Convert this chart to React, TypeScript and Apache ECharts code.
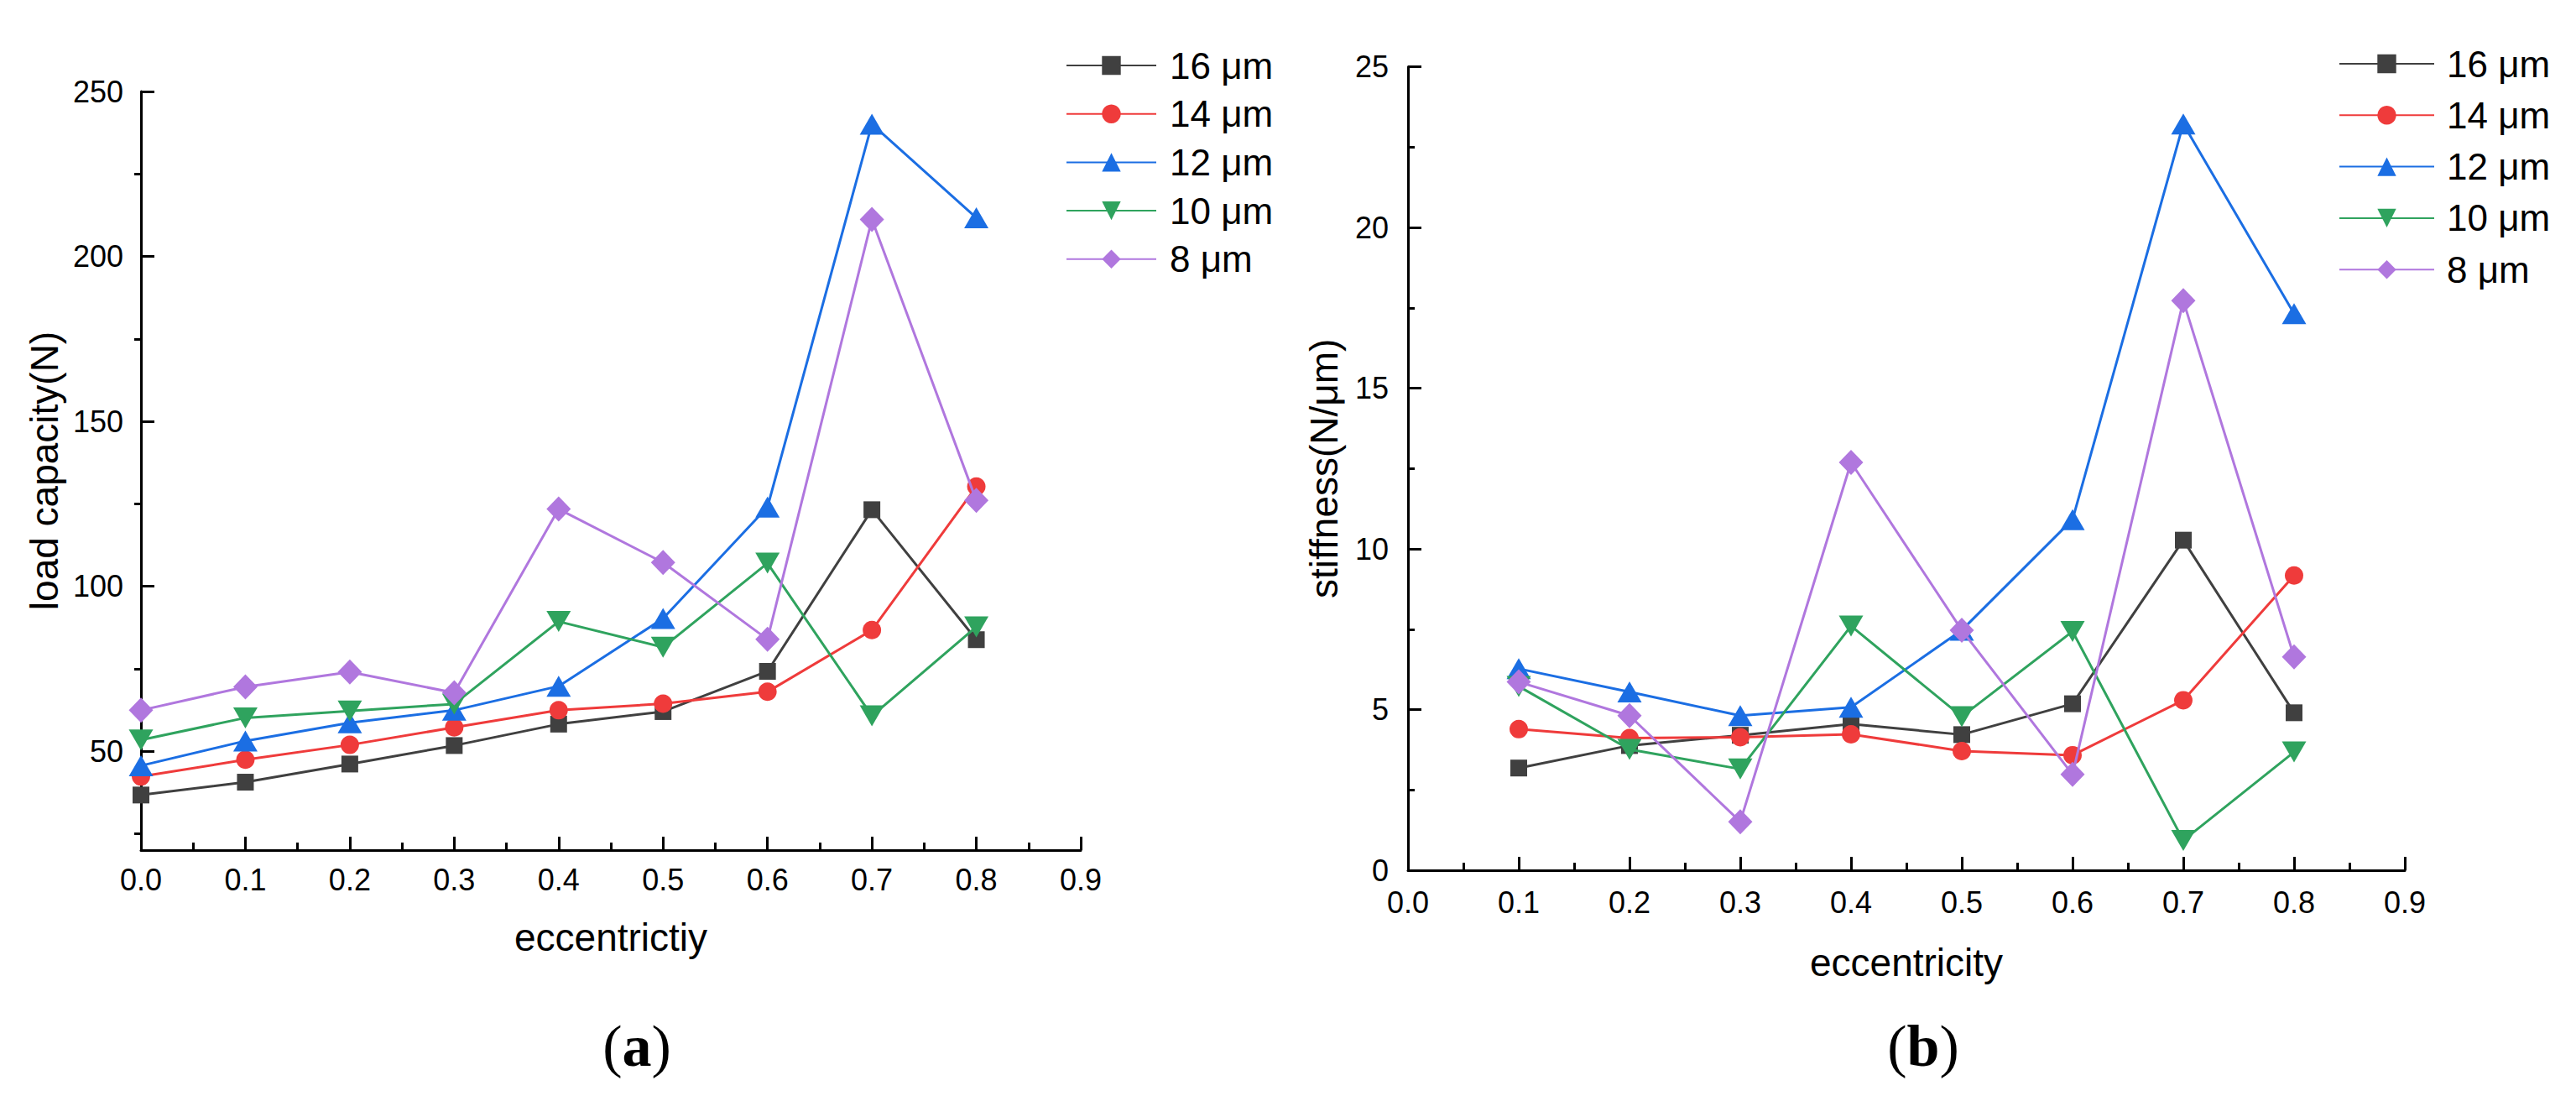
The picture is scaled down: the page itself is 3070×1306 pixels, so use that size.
import React, { useEffect, useRef } from "react";
import * as echarts from "echarts";

// ---- data ----
const eccentricityA = [0, 0.1, 0.2, 0.3, 0.4, 0.5, 0.6, 0.7, 0.8];
const load16 = [36.7, 40.6, 46.1, 51.7, 58.2, 62.0, 74.2, 123.2, 83.8];
const load14 = [42.3, 47.4, 51.9, 57.2, 62.4, 64.4, 68.0, 86.7, 130.2];
const load12 = [45.6, 53.1, 58.6, 62.4, 69.7, 90.2, 124.0, 240.1, 211.7];
const load10 = [53.4, 60.1, 62.2, 64.3, 89.3, 81.5, 107.0, 60.7, 87.7];
const load8 = [62.4, 69.5, 74.0, 67.7, 123.4, 107.2, 83.9, 211.2, 126.0];

const eccentricityB = [0.1, 0.2, 0.3, 0.4, 0.5, 0.6, 0.7, 0.8];
const stiff16 = [3.18, 3.88, 4.2, 4.55, 4.22, 5.18, 10.27, 4.9];
const stiff14 = [4.39, 4.11, 4.14, 4.23, 3.71, 3.58, 5.29, 9.17];
const stiff12 = [6.27, 5.55, 4.81, 5.07, 7.47, 10.91, 23.22, 17.32];
const stiff10 = [5.72, 3.76, 3.15, 7.6, 4.78, 7.43, 0.93, 3.68];
const stiff8 = [5.86, 4.81, 1.51, 12.69, 7.47, 2.98, 17.72, 6.64];

const seriesNames = ["16 μm", "14 μm", "12 μm", "10 μm", "8 μm"];
const loadSeries = [load16, load14, load12, load10, load8];
const stiffSeries = [stiff16, stiff14, stiff12, stiff10, stiff8];

const yMajorA = [50, 100, 150, 200, 250];
const yMinorA = [25, 75, 125, 175, 225];

// ---- styles ----
const colors = ["#404040", "#ef3b3b", "#1b6ee3", "#2fa35e", "#b077de"];
const symbols = ["rect", "circle", "triangle", "triangle", "diamond"];
const rotations = [0, 0, 0, 180, 0];
const sizes: any[] = [[20, 20], [22, 22], [29, 25], [29, 25], [29, 30]];
const FONT = "'Liberation Sans', Arial, Helvetica, sans-serif";
const SERIF = "'Liberation Serif', 'Times New Roman', serif";

function xAxisCfg(grid: number, name: string, labelMargin: number, nameGap: number) {
  return {
    type: "value",
    gridIndex: grid,
    min: 0,
    max: 0.9,
    interval: 0.1,
    axisLine: { show: true, onZero: false, lineStyle: { color: "#000", width: 3 } },
    axisTick: { show: true, inside: true, length: 16, lineStyle: { color: "#000", width: 3 } },
    minorTick: { show: true, splitNumber: 2, length: 9, lineStyle: { color: "#000", width: 3 } },
    splitLine: { show: false },
    minorSplitLine: { show: false },
    axisLabel: {
      margin: labelMargin,
      fontSize: 36,
      color: "#000",
      fontFamily: FONT,
      formatter: (v: number) => v.toFixed(1),
    },
    name,
    nameLocation: "middle",
    nameGap,
    nameTextStyle: { fontSize: 46, color: "#000", fontFamily: FONT },
  };
}

function panelLabel(letter: string, x: number, y: number) {
  return {
    type: "text",
    x,
    y,
    style: {
      text: "{p|(}{b|" + letter + "}{p|)}",
      align: "center",
      verticalAlign: "middle",
      rich: {
        p: { fontSize: 70, fontFamily: SERIF, fill: "#000" },
        b: { fontSize: 70, fontWeight: "bold", fontFamily: SERIF, fill: "#000" },
      },
    },
  };
}

function App() {
  const ref = useRef<HTMLDivElement>(null);

  useEffect(() => {
    document.body.style.margin = "0";
    if (!ref.current) return;
    const chart = echarts.init(ref.current, undefined, { renderer: "svg" });

    const series: any[] = [];
    const addSeries = (xs: number[], ys: number[][], xIdx: number, yIdx: number) => {
      seriesNames.forEach((name, i) => {
        series.push({
          type: "line",
          name,
          xAxisIndex: xIdx,
          yAxisIndex: yIdx,
          data: xs.map((x, k) => [x, ys[i][k]]),
          symbol: symbols[i],
          symbolRotate: rotations[i],
          symbolSize: sizes[i],
          showAllSymbol: true,
          lineStyle: { color: colors[i], width: 3 },
          itemStyle: { color: colors[i] },
          z: 2 + i,
        });
      });
    };
    addSeries(eccentricityA, loadSeries, 0, 0);
    addSeries(eccentricityB, stiffSeries, 1, 2);

    const legendCommon = {
      orient: "vertical",
      itemHeight: 28,
      data: seriesNames,
      selectedMode: false,
    };
    const legendText = { fontSize: 44, color: "#000", fontFamily: FONT };

    const option: any = {
      animation: false,
      backgroundColor: "#fff",
      grid: [
        { left: 168, top: 109, width: 1120, height: 904, containLabel: false },
        { left: 1678, top: 79.5, width: 1188, height: 957.5, containLabel: false },
      ],
      xAxis: [
        xAxisCfg(0, "eccentrictiy", 17, 81),
        xAxisCfg(1, "eccentricity", 20, 87),
      ],
      yAxis: [
        {
          type: "value",
          gridIndex: 0,
          min: 20,
          max: 250,
          axisLine: { show: true, onZero: false, lineStyle: { color: "#000", width: 3 } },
          axisTick: {
            show: true,
            inside: true,
            length: 16,
            customValues: yMajorA,
            lineStyle: { color: "#000", width: 3 },
          },
          splitLine: { show: false },
          axisLabel: {
            customValues: yMajorA,
            margin: 21,
            fontSize: 36,
            color: "#000",
            fontFamily: FONT,
          },
          name: "load capacity(N)",
          nameLocation: "middle",
          nameGap: 92,
          nameTextStyle: { fontSize: 46, color: "#000", fontFamily: FONT },
        },
        {
          type: "value",
          gridIndex: 0,
          min: 20,
          max: 250,
          axisLine: { show: false },
          axisTick: {
            show: true,
            inside: true,
            length: 8,
            customValues: yMinorA,
            lineStyle: { color: "#000", width: 3 },
          },
          axisLabel: { show: false },
          splitLine: { show: false },
        },
        {
          type: "value",
          gridIndex: 1,
          min: 0,
          max: 25,
          interval: 5,
          axisLine: { show: true, onZero: false, lineStyle: { color: "#000", width: 3 } },
          axisTick: { show: true, inside: true, length: 16, lineStyle: { color: "#000", width: 3 } },
          minorTick: { show: true, splitNumber: 2, length: 8, lineStyle: { color: "#000", width: 3 } },
          splitLine: { show: false },
          minorSplitLine: { show: false },
          axisLabel: { margin: 23, fontSize: 36, color: "#000", fontFamily: FONT },
          name: "stiffness(N/μm)",
          nameLocation: "middle",
          nameGap: 77,
          nameTextStyle: { fontSize: 46, color: "#000", fontFamily: FONT },
        },
      ],
      legend: [
        {
          ...legendCommon,
          left: 1265,
          top: 51,
          itemWidth: 107,
          itemGap: 13.7,
          textStyle: { ...legendText, padding: [0, 0, 0, 11] },
        },
        {
          ...legendCommon,
          left: 2782,
          top: 49,
          itemWidth: 113,
          itemGap: 17.3,
          textStyle: { ...legendText, padding: [0, 0, 0, 10] },
        },
      ],
      graphic: [panelLabel("a", 759, 1246), panelLabel("b", 2292, 1246)],
      series,
    };

    chart.setOption(option);
    return () => {
      chart.dispose();
    };
  }, []);

  return <div ref={ref} style={{ width: 3070, height: 1306 }} />;
}

export default App;
